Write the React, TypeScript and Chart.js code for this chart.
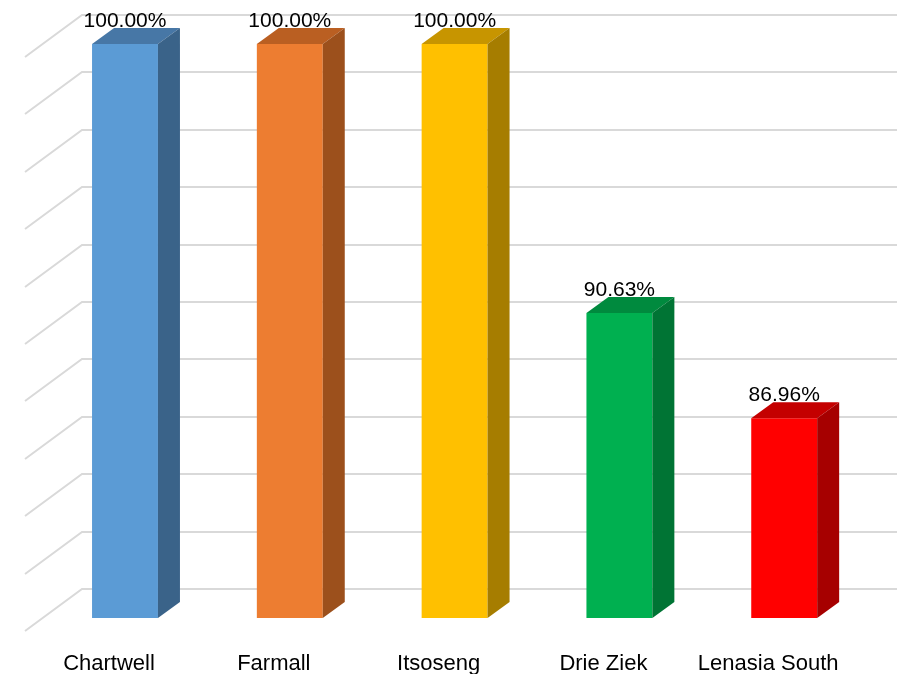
import React, { useEffect, useRef } from "react";
import { Chart, registerables } from "chart.js";

Chart.register(...registerables);

const categories = ["Chartwell", "Farmall", "Itsoseng", "Drie Ziek", "Lenasia South"];
const values = [100, 100, 100, 90.63, 86.96];
const frontColors = ["#5B9BD5", "#ED7D31", "#FFC000", "#00B050", "#FF0000"];
const topColors = ["#4777A6", "#BA5F22", "#C79500", "#008A3E", "#C40000"];
const sideColors = ["#3A6389", "#9C501C", "#A67D00", "#007434", "#A60000"];
const yMin = 80;
const yMax = 100;
const yStep = 2;

const DEPTH_X = 22;
const DEPTH_Y = 16;
const WALL_DY = 29;

const threeD = {
  id: "threeD",
  beforeDatasetsDraw(chart: any) {
    const ctx = chart.ctx;
    const ys = chart.scales.y;
    ctx.save();
    ctx.strokeStyle = "#D9D9D9";
    ctx.lineWidth = 2;
    for (let v = yMin; v <= yMax + 1e-9; v += yStep) {
      const py = Math.round(ys.getPixelForValue(v) - WALL_DY);
      ctx.beginPath();
      ctx.moveTo(25, py + 42);
      ctx.lineTo(82, py);
      ctx.lineTo(chart.width, py);
      ctx.stroke();
    }
    ctx.restore();
  },
  afterDatasetsDraw(chart: any) {
    const ctx = chart.ctx;
    const meta = chart.getDatasetMeta(0);
    const base = chart.scales.y.getPixelForValue(yMin);
    ctx.save();
    meta.data.forEach((bar: any, i: number) => {
      const { x, y, width } = bar.getProps(["x", "y", "width"], true);
      const x1 = x - width / 2;
      const x2 = x + width / 2;
      // top face
      ctx.fillStyle = topColors[i];
      ctx.beginPath();
      ctx.moveTo(x1, y);
      ctx.lineTo(x1 + DEPTH_X, y - DEPTH_Y);
      ctx.lineTo(x2 + DEPTH_X, y - DEPTH_Y);
      ctx.lineTo(x2, y);
      ctx.closePath();
      ctx.fill();
      // side face
      ctx.fillStyle = sideColors[i];
      ctx.beginPath();
      ctx.moveTo(x2, y);
      ctx.lineTo(x2 + DEPTH_X, y - DEPTH_Y);
      ctx.lineTo(x2 + DEPTH_X, base - DEPTH_Y);
      ctx.lineTo(x2, base);
      ctx.closePath();
      ctx.fill();
      // data label
      ctx.fillStyle = "#000000";
      ctx.font = "21px 'Liberation Sans', Arial, sans-serif";
      ctx.textAlign = "center";
      ctx.textBaseline = "alphabetic";
      ctx.fillText(values[i].toFixed(2) + "%", x, y - 17);
    });
    // category labels
    const xs = chart.scales.x;
    ctx.fillStyle = "#000000";
    ctx.font = "22px 'Liberation Sans', Arial, sans-serif";
    ctx.textAlign = "center";
    ctx.textBaseline = "alphabetic";
    categories.forEach((c, i) => {
      ctx.fillText(c, xs.getPixelForValue(i) - 16, 670);
    });
    ctx.restore();
  },
};

export default function App() {
  const ref = useRef<HTMLCanvasElement | null>(null);
  useEffect(() => {
    if (!ref.current) return;
    const chart = new Chart(ref.current, {
      type: "bar",
      data: {
        labels: categories,
        datasets: [
          {
            data: values,
            backgroundColor: frontColors,
            borderWidth: 0,
            categoryPercentage: 1,
            barPercentage: 0.4,
          },
        ],
      },
      options: {
        responsive: false,
        maintainAspectRatio: false,
        animation: false,
        layout: { padding: { left: 42.6, right: 30.4, top: 44, bottom: 56 } },
        plugins: { legend: { display: false }, tooltip: { enabled: false } },
        scales: {
          x: { display: false },
          y: { display: false, min: yMin, max: yMax, ticks: { stepSize: yStep } },
        },
      },
      plugins: [threeD],
    });
    return () => chart.destroy();
  }, []);
  return (
    <div style={{ position: "absolute", left: 0, top: 0, width: 897, height: 674, background: "#fff" }}>
      <canvas ref={ref} width={897} height={674} style={{ width: 897, height: 674 }} />
    </div>
  );
}
